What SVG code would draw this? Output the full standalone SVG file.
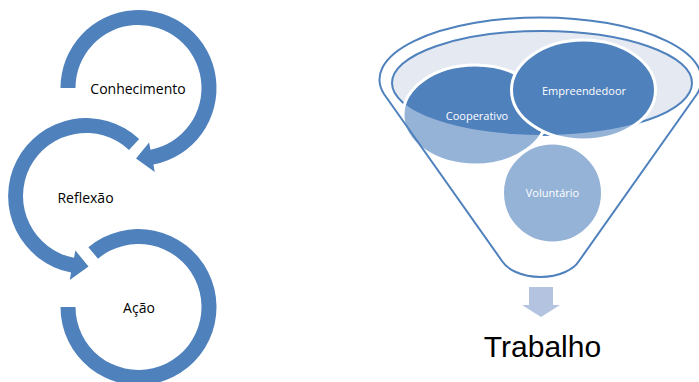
<svg xmlns="http://www.w3.org/2000/svg" width="699" height="382" viewBox="0 0 699 382">
<style>
.ring{fill:#4F81BD;}
.lbl{font-family:"Open Sans","Liberation Sans",sans-serif;font-size:14px;fill:#000;text-anchor:middle;}
.flbl{font-family:"Open Sans","Liberation Sans",sans-serif;font-size:11px;fill:#FFFFFF;text-anchor:middle;}
.light{fill:#95B3D7;}
.dark{fill:#4F81BD;}
.wedge{fill:none;stroke:#FFFFFF;stroke-width:3;}
</style>
<defs>
<clipPath id="rim"><ellipse cx="542" cy="83" rx="150" ry="52"/></clipPath>
<path id="funnelShape" d="M 384,94 A 161 62 0 1 1 697,94 L 579,261 C 574,269 560,277 540.5,277 C 521,277 507,269 502,261 Z"/>
</defs>
<rect width="699" height="382" fill="#FFFFFF"/>

<g id="connectors">
<path id="arrow-conhecimento" class="ring" d="M 60.5,88 A 78 78 0 1 1 153.4,164.6 L 154.8,171.9 L 136.0,158.5 L 149.1,142.5 L 150.5,149.8 A 63 63 0 1 0 75.5,88 Z"/>
<path id="arrow-reflexao" class="ring" d="M 139.2,138.9 A 78 78 0 1 0 71.1,272.6 L 69.7,279.9 L 88.5,266.5 L 75.4,250.5 L 74.0,257.8 A 63 63 0 1 1 129.0,149.9 Z"/>
<path id="arrow-acao" class="ring" d="M 88.4,247.3 A 78 78 0 1 1 60.5,307 L 75.5,307 A 63 63 0 1 0 98.0,258.7 Z"/>
<path id="arrow-down" fill="#B4C4E0" d="M 529,287 L 553,287 L 553,305 L 560,305 L 541,317 L 522,305 L 529,305 Z"/>
</g>

<g id="conhecimento"><text class="lbl" x="138" y="94">Conhecimento</text></g>
<g id="reflexao"><text class="lbl" x="85.5" y="203">Reflexão</text></g>
<g id="acao"><text class="lbl" x="139" y="313">Ação</text></g>

<g id="funnel">
<use href="#funnelShape" fill="#FFFFFF"/>
<ellipse cx="542" cy="83" rx="150" ry="52" fill="#E4E9F2" stroke="#4F81BD" stroke-width="2"/>
</g>

<g id="cooperativo">
<ellipse class="light" cx="475" cy="115" rx="72" ry="50"/>
<ellipse class="dark" cx="475" cy="115" rx="72" ry="50" clip-path="url(#rim)"/>
<ellipse class="wedge" cx="475" cy="115" rx="72" ry="50"/>
<text class="flbl" x="477" y="120">Cooperativo</text>
</g>

<g id="voluntario">
<circle class="light" cx="552.5" cy="193" r="50"/>
<circle class="wedge" cx="552.5" cy="193" r="50"/>
<text class="flbl" x="552.5" y="197">Voluntário</text>
</g>

<g id="empreendedoor">
<ellipse class="light" cx="583.5" cy="90" rx="72" ry="50"/>
<ellipse class="dark" cx="583.5" cy="90" rx="72" ry="50" clip-path="url(#rim)"/>
<ellipse class="wedge" cx="583.5" cy="90" rx="72" ry="50"/>
<text class="flbl" x="584" y="95">Empreendedoor</text>
</g>

<g id="funnel-outline">
<use href="#funnelShape" fill="none" stroke="#4F81BD" stroke-width="2"/>
</g>

<g id="trabalho"><text x="542.5" y="357" font-family="Liberation Sans, Arial, sans-serif" font-size="30" fill="#000" text-anchor="middle">Trabalho</text></g>
</svg>
